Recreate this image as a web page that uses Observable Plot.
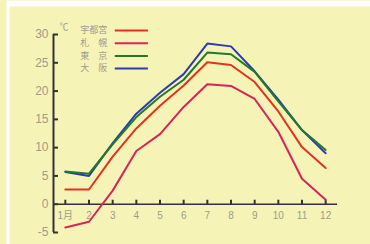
<!DOCTYPE html>
<html><head><meta charset="utf-8">
<script src="https://cdn.jsdelivr.net/npm/d3@7"></script>
<script src="https://cdn.jsdelivr.net/npm/@observablehq/plot@0.6"></script>
<style>html,body{margin:0;padding:0;background:#f6f3b7;}svg{display:block;}</style>
</head><body><div id="chart"></div>
<script>
const months = [1,2,3,4,5,6,7,8,9,10,11,12];
const monthLabels = ["1月","2","3","4","5","6","7","8","9","10","11","12"];
const yTicks = [-5,0,5,10,15,20,25,30];
const seriesNames = ["宇都宮","札　幌","東　京","大　阪"];
const seriesColors = ["#e5321f","#d8245c","#24782c","#2b3bb3"];
const utsunomiya = [2.6,2.6,8.4,13.4,17.4,21.0,25.1,24.6,21.6,16.4,10.1,6.4];
const sapporo = [-4.1,-3.1,2.4,9.4,12.4,17.2,21.2,20.9,18.6,12.8,4.5,0.8];
const tokyo = [5.8,5.4,10.6,15.4,19.0,22.0,26.8,26.5,23.4,18.2,13.1,9.6];
const osaka = [5.7,5.0,10.8,16.0,19.7,23.0,28.4,27.9,23.5,18.5,13.1,9.0];

const seriesValues = [utsunomiya, sapporo, tokyo, osaka];
const rows = seriesValues.map((vals,i)=>vals.map((v,j)=>({series: seriesNames[i], month: months[j], temp: v})));
const drawOrder = [1,0,3,2];
const grey = "#9d9c8e";
const font = "'Liberation Sans','Noto Sans CJK JP',sans-serif";

const chart = Plot.plot({
  width: 370, height: 244,
  marginLeft: 53, marginRight: 33, marginTop: 34, marginBottom: 12,
  x: {domain: [0.5, 12.5], axis: null},
  y: {domain: [-5, 30], axis: null},
  style: {fontFamily: font, background: "#f6f3b7"},
  marks: [
    Plot.frame({fill: "#ffffff", stroke: null, insetLeft: -47, insetTop: -34, insetRight: -33, insetBottom: -12}),
    Plot.frame({fill: "#f6f3b7", stroke: null, insetLeft: -44, insetTop: -28, insetRight: -33, insetBottom: -12}),
    Plot.ruleX([0.5], {y1: -5, y2: 30, stroke: "#333", strokeWidth: 2}),
    Plot.ruleY([0], {x1: 0.5, x2: 12.5, stroke: "#333", strokeWidth: 1.5}),
    Plot.ruleY(yTicks, {x1: 0.5, x2: 0.5, y: d=>d, insetRight: -5, stroke: "#333", strokeWidth: 2}),
    Plot.ruleX(months, {x: d=>d, y1: 0, y2: 0, insetTop: -4, insetBottom: -1, stroke: "#333", strokeWidth: 2}),
    Plot.text(yTicks, {x: 0.5, y: d=>d, text: d=>String(d), dx: -5, textAnchor: "end", fill: grey, fontSize: 12}),
    Plot.text(months, {x: d=>d, y: 0, text: (d,i)=>monthLabels[i], dy: 12, fill: grey, fontSize: 10}),
    Plot.text(["℃"], {x: 0.5, y: 30, dx: 6, dy: -7, textAnchor: "start", fill: grey, fontSize: 9}),
    ...drawOrder.map(i => Plot.line(rows[i], {x: "month", y: "temp", stroke: seriesColors[i], strokeWidth: 2})),
    ...seriesNames.map((name,i) => Plot.text([name], {x: 1.63, y: 30, dy: -4 + i*12.7, text: d=>d, textAnchor: "start", fill: grey, fontSize: 9})),
    ...seriesNames.map((name,i) => Plot.ruleY([30], {x1: 3.11, x2: 4.51, dy: -4 + i*12.7, stroke: seriesColors[i], strokeWidth: 2}))
  ]
});
document.getElementById("chart").appendChild(chart);
</script></body></html>
